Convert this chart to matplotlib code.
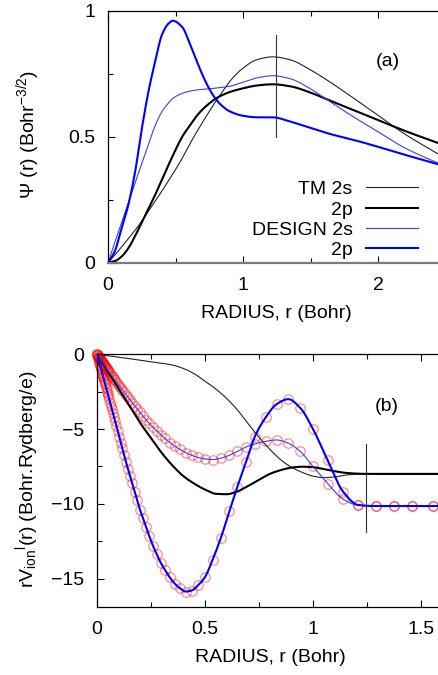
import numpy as np
import matplotlib
matplotlib.use("Agg")
import matplotlib.pyplot as plt
from matplotlib.lines import Line2D

plt.rcParams['font.family'] = ['Liberation Sans', 'DejaVu Sans']
plt.rcParams['mathtext.fontset'] = 'custom'
plt.rcParams['mathtext.rm'] = 'Liberation Sans'
plt.rcParams['mathtext.it'] = 'Liberation Sans:italic'
plt.rcParams['mathtext.bf'] = 'Liberation Sans:bold'
plt.rcParams['mathtext.default'] = 'regular'

# ---------------- data: panel (a) wavefunctions ----------------
r_wf = [0, 0.05, 0.1, 0.15, 0.2, 0.25, 0.3, 0.35, 0.4, 0.45, 0.48, 0.55, 0.6, 0.65,
        0.7, 0.75, 0.8, 0.85, 0.9, 1.0, 1.1, 1.22, 1.35, 1.5, 1.65, 1.8, 2.0, 2.2, 2.45]
psi_tm_2s = [0, 0.03, 0.062, 0.095, 0.128, 0.165, 0.205, 0.245, 0.285, 0.327, 0.352, 0.415,
             0.465, 0.512, 0.557, 0.6, 0.642, 0.68, 0.718, 0.772, 0.805, 0.817, 0.805, 0.765,
             0.715, 0.66, 0.585, 0.51, 0.43]
psi_tm_2p = [0, 0.006, 0.024, 0.057, 0.105, 0.16, 0.215, 0.27, 0.33, 0.39, 0.425, 0.5,
             0.54, 0.578, 0.608, 0.632, 0.652, 0.666, 0.677, 0.692, 0.703, 0.708, 0.70, 0.675,
             0.642, 0.61, 0.566, 0.523, 0.474]
psi_design_2s = [0, 0.08, 0.158, 0.237, 0.315, 0.393, 0.47, 0.545, 0.6, 0.635, 0.652, 0.672,
                 0.68, 0.685, 0.688, 0.69, 0.693, 0.696, 0.70, 0.716, 0.733, 0.742, 0.73, 0.69,
                 0.637, 0.585, 0.52, 0.455, 0.394]
psi_design_2p = [0, 0.045, 0.135, 0.228, 0.358, 0.53, 0.68, 0.8, 0.905, 0.95, 0.96, 0.935,
                 0.878, 0.81, 0.745, 0.69, 0.648, 0.62, 0.601, 0.583, 0.577, 0.577, 0.56, 0.535,
                 0.51, 0.49, 0.46, 0.428, 0.39]

# ---------------- data: panel (b) ionic pseudopotentials ----------------
r_tm = [0, 0.05, 0.1, 0.15, 0.2, 0.25, 0.3, 0.35, 0.4, 0.45, 0.5, 0.55, 0.6, 0.65, 0.7,
        0.75, 0.8, 0.85, 0.9, 0.95, 1.0, 1.05, 1.1, 1.15, 1.2, 1.25, 1.6]
v_tm_2s = [0, -0.1, -0.2, -0.29, -0.4, -0.5, -0.6, -0.72, -0.95, -1.3, -1.8, -2.32,
           -2.95, -3.72, -4.65, -5.55, -6.35, -7.05, -7.55, -7.9, -8.15, -8.25, -8.2, -8.08,
           -8.02, -8.0, -8.0]
v_tm_2p = [0, -1.15, -2.3, -3.45, -4.6, -5.6, -6.6, -7.45, -8.15, -8.65, -9.05, -9.33,
           -9.36, -9.17, -8.8, -8.4, -8.0, -7.75, -7.58, -7.52, -7.55, -7.68, -7.82, -7.93,
           -7.98, -8.0, -8.0]

r_mesh = [0.0, 0.001, 0.003, 0.005, 0.007, 0.009, 0.011, 0.013, 0.015, 0.017, 0.019, 0.021,
          0.023, 0.025, 0.027, 0.029, 0.031, 0.034, 0.036, 0.038, 0.041, 0.044, 0.047, 0.050,
          0.053, 0.057, 0.061, 0.065, 0.069, 0.074, 0.079, 0.084, 0.090, 0.096, 0.103, 0.110,
          0.117, 0.125, 0.134, 0.143, 0.153, 0.163, 0.174, 0.186, 0.199, 0.212, 0.227, 0.242,
          0.259, 0.276, 0.295, 0.315, 0.337, 0.360, 0.384, 0.410, 0.438, 0.468, 0.500, 0.535,
          0.573, 0.613, 0.650, 0.690, 0.731, 0.781, 0.832, 0.886, 0.940, 1.000, 1.068, 1.140,
          1.210, 1.292, 1.375, 1.460, 1.557, 1.660]
v_design_2s = [0, -0.02, -0.06, -0.1, -0.15, -0.19, -0.23, -0.27, -0.32, -0.36, -0.4, -0.44,
               -0.49, -0.53, -0.57, -0.61, -0.65, -0.72, -0.76, -0.8, -0.86, -0.93, -0.99, -1.05,
               -1.11, -1.2, -1.28, -1.36, -1.44, -1.54, -1.64, -1.74, -1.86, -1.98, -2.11, -2.24,
               -2.38, -2.53, -2.7, -2.87, -3.05, -3.24, -3.43, -3.65, -3.88, -4.12, -4.38, -4.62,
               -4.88, -5.1, -5.38, -5.63, -5.9, -6.15, -6.36, -6.57, -6.75, -6.9, -7.0, -7.04,
               -6.95, -6.75, -6.5, -6.2, -6.0, -5.82, -5.73, -5.95, -6.48, -7.5, -8.65, -9.7,
               -10.1, -10.15, -10.15, -10.15, -10.15, -10.15]
v_design_2p = [0, -0.05, -0.15, -0.25, -0.36, -0.47, -0.58, -0.69, -0.79, -0.9, -1.0, -1.11,
               -1.22, -1.32, -1.43, -1.54, -1.64, -1.8, -1.91, -2.01, -2.17, -2.33, -2.49, -2.65,
               -2.81, -3.02, -3.24, -3.45, -3.67, -3.93, -4.2, -4.47, -4.8, -5.13, -5.5, -5.9,
               -6.28, -6.72, -7.2, -7.65, -8.15, -8.63, -9.18, -9.75, -10.4, -10.92, -11.55, -12.16,
               -12.8, -13.35, -13.94, -14.43, -14.92, -15.34, -15.65, -15.87, -15.8, -15.45, -14.9, -13.75,
               -12.3, -10.5, -8.85, -7.2, -5.5, -4.22, -3.33, -3.0, -3.57, -5.0, -7.1, -9.2,
               -10.08, -10.15, -10.15, -10.15, -10.15, -10.15]

cutoff_radius = 1.245
cut_a = [0.5, 0.903]
cut_b = [-6.0, -11.9]

legend_labels = ['TM 2s', '2p', 'DESIGN 2s', '2p']


def smooth_curve(x, y, n=1500):
    """Monotone cubic (PCHIP-style) rendering of the read points."""
    x = np.asarray(x, float)
    y = np.asarray(y, float)
    h = np.diff(x)
    d = np.diff(y) / h
    m = np.zeros_like(y)
    for k in range(1, len(x) - 1):
        if d[k - 1] * d[k] > 0:
            w1 = 2 * h[k] + h[k - 1]
            w2 = h[k] + 2 * h[k - 1]
            m[k] = (w1 + w2) / (w1 / d[k - 1] + w2 / d[k])
    m[0] = d[0]
    m[-1] = d[-1]
    xs = np.union1d(np.linspace(x[0], x[-1], n), x)
    i = np.clip(np.searchsorted(x, xs, side='right') - 1, 0, len(h) - 1)
    t = (xs - x[i]) / h[i]
    h00 = 2 * t**3 - 3 * t**2 + 1
    h10 = t**3 - 2 * t**2 + t
    h01 = -2 * t**3 + 3 * t**2
    h11 = t**3 - t**2
    ys = h00 * y[i] + h10 * h[i] * m[i] + h01 * y[i + 1] + h11 * h[i] * m[i + 1]
    return xs, ys


W, H = 438, 675
fig = plt.figure(figsize=(W / 100, H / 100), dpi=100)

FS = 14
thin_k = dict(color='#222222', lw=0.8)
thick_k = dict(color='black', lw=1.5)
thin_b = dict(color='#3a3aff', lw=0.8)
thick_b = dict(color='#0000ff', lw=1.5)
styles = [thin_k, thick_k, thin_b, thick_b]


def px_axes(left, right, top, bottom):
    return fig.add_axes([left / W, 1 - bottom / H, (right - left) / W, (bottom - top) / H])


def style_axes(ax):
    ax.tick_params(which='both', direction='in', top=True, right=False, labelsize=FS,
                   width=0.8, color='black')
    ax.tick_params(which='major', length=5)
    ax.tick_params(which='minor', length=3.5)
    ax.tick_params(axis='x', pad=10)
    ax.tick_params(axis='y', pad=9)
    ax.spines['right'].set_visible(False)
    for s in ['left', 'top', 'bottom']:
        ax.spines[s].set_linewidth(0.9)


# ---------------- panel (a) ----------------
ax1 = px_axes(108, 438, 10.7, 262.7)
for vals, st in zip([psi_tm_2s, psi_tm_2p, psi_design_2s, psi_design_2p], styles):
    xs, ys = smooth_curve(r_wf, vals)
    ax1.plot(xs, ys, **st)
ax1.plot([cutoff_radius, cutoff_radius], cut_a, color='#333333', lw=0.8)
ax1.set_xlim(0, 330 / 135)
ax1.set_ylim(0, 1)
ax1.set_xticks([0, 1, 2])
ax1.set_xticks([0.5, 1.5], minor=True)
ax1.set_yticks([0, 0.5, 1])
ax1.set_yticklabels(['0', '0.5', '1'])
ax1.set_yticks([0.25, 0.75], minor=True)
style_axes(ax1)
ax1.spines['bottom'].set_color('#7a7a7a')
ax1.spines['bottom'].set_linewidth(1.6)
ax1.text(2.074, 0.798, '(a)', fontsize=FS, ha='center', va='center')

# legend drawn by hand (right-aligned labels)
rows_px = [186.7, 207.7, 228.3, 248.3]
for lab, st, ypx in zip(legend_labels, styles, rows_px):
    yf = (262.7 - ypx) / 252
    ax1.add_line(Line2D([(366 - 108) / 330, (418 - 108) / 330], [yf, yf],
                        transform=ax1.transAxes, **st))
    ax1.annotate(lab, xy=((352.7 - 108) / 330, yf), xycoords='axes fraction',
                 xytext=(0, -0.36 * FS), textcoords='offset points',
                 ha='right', va='baseline', fontsize=FS)

fig.text(276 / W, 1 - 313 / H, 'RADIUS, r (Bohr)', fontsize=FS, ha='center', va='center')
fig.text(28 / W, 1 - 134 / H, r'$\Psi$ (r) (Bohr$^{-3/2}$)', fontsize=FS,
         ha='center', va='center', rotation=90)

# ---------------- panel (b) ----------------
ax2 = px_axes(97, 438, 354.3, 607.3)
ax2.plot(r_mesh, v_design_2s, 'o', ms=6.8, mfc='none', mec=(1, 0, 0, 0.45), mew=0.9,
         clip_on=False, zorder=2)
ax2.plot(r_mesh, v_design_2p, 'o', ms=6.8, mfc='none', mec=(1, 0, 0, 0.45), mew=0.9,
         clip_on=False, zorder=2)
for rr, vals, st in zip([r_tm, r_tm, r_mesh, r_mesh],
                        [v_tm_2s, v_tm_2p, v_design_2s, v_design_2p], styles):
    xs, ys = smooth_curve(rr, vals)
    ax2.plot(xs, ys, zorder=3, **st)
ax2.plot([cutoff_radius, cutoff_radius], cut_b, color='#333333', lw=0.8, zorder=3)
ax2.set_xlim(0, 341 / 216)
ax2.set_ylim(-(607.3 - 354.3) / 14.95, 0)
ax2.set_xticks([0, 0.5, 1, 1.5])
ax2.set_xticklabels(['0', '0.5', '1', '1.5'])
ax2.set_xticks([0.25, 0.75, 1.25], minor=True)
ax2.set_yticks([0, -5, -10, -15])
ax2.set_yticklabels(['0', '\u22125', '\u221210', '\u221215'])
ax2.set_yticks([-2.5, -7.5, -12.5], minor=True)
style_axes(ax2)
ax2.text(1.341, -3.52, '(b)', fontsize=FS, ha='center', va='center')

fig.text(270 / W, 1 - 658 / H, 'RADIUS, r (Bohr)', fontsize=FS, ha='center', va='center')
fig.text(27 / W, 1 - 479 / H, r'rV$_{ion}$$^{l}$(r) (Bohr.Rydberg/e)', fontsize=FS,
         ha='center', va='center', rotation=90)

fig.savefig('out.png', dpi=100)
